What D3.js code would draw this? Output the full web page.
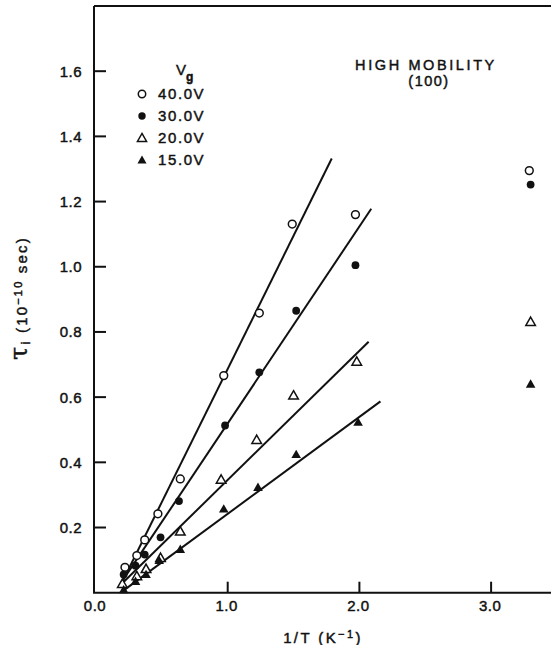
<!DOCTYPE html>
<html>
<head>
<meta charset="utf-8">
<script src="https://cdn.jsdelivr.net/npm/d3@7"></script>
<style>
  html, body { margin: 0; padding: 0; background: #fff; }
  svg { display: block; }
  text { fill: #111; stroke: #111; stroke-width: 0.45px; font-family: "Liberation Sans", Arial, sans-serif; }
</style>
</head>
<body>
<svg id="chart" width="551" height="645"></svg>
<script>
// Gate-voltage series (legend order)
const series = ["40.0V", "30.0V", "20.0V", "15.0V"];
const markers = ["openCircle", "filledCircle", "openTriangle", "filledTriangle"];

// Inverse temperature 1/T (K^-1) and relaxation time tau_i (1e-10 s)
const invT40 = [0.22, 0.31, 0.37, 0.47, 0.64, 0.97, 1.24, 1.49, 1.97, 3.29];
const tau40  = [0.078, 0.114, 0.162, 0.242, 0.349, 0.666, 0.858, 1.131, 1.160, 1.295];
const invT30 = [0.21, 0.30, 0.37, 0.49, 0.63, 0.98, 1.24, 1.52, 1.97, 3.30];
const tau30  = [0.056, 0.083, 0.117, 0.170, 0.281, 0.513, 0.676, 0.865, 1.005, 1.252];
const invT20 = [0.20, 0.31, 0.38, 0.49, 0.64, 0.95, 1.22, 1.50, 1.98, 3.30];
const tau20  = [0.027, 0.051, 0.073, 0.107, 0.188, 0.347, 0.469, 0.605, 0.709, 0.831];
const invT15 = [0.21, 0.30, 0.38, 0.48, 0.64, 0.97, 1.23, 1.52, 1.99, 3.30];
const tau15  = [0.009, 0.035, 0.056, 0.099, 0.133, 0.257, 0.323, 0.424, 0.523, 0.640];

// Straight-line fits: start and end points (1/T, tau_i)
const fitStart = [[0.19, 0.025], [0.19, 0.030], [0.19, 0.025], [0.20, 0.004]];
const fitEnd   = [[1.79, 1.332], [2.09, 1.178], [2.07, 0.770], [2.16, 0.587]];

// Axis ticks
const xTicks = [0, 1, 2, 3];
const xTickLabels = ["0.0", "1.0", "2.0", "3.0"];
const yTicks = [0.2, 0.4, 0.6, 0.8, 1.0, 1.2, 1.4, 1.6];
const yTickLabels = ["0.2", "0.4", "0.6", "0.8", "1.0", "1.2", "1.4", "1.6"];

const xs = [invT40, invT30, invT20, invT15];
const ys = [tau40, tau30, tau20, tau15];

const svg = d3.select("#chart");

const x = d3.scaleLinear().domain([0, 3.6]).range([96, 96 + 131.7 * 3.6]);
const y = d3.scaleLinear().domain([0, 1.8]).range([592.7, 6]);

const X0 = x(0) - 2, Y0 = y(0), YTOP = 6;

// frame: left axis, bottom axis, top border
const frame = svg.append("g").attr("stroke", "#111").attr("stroke-width", 2).attr("fill", "none");
frame.append("path").attr("d", `M${X0},${YTOP} V${Y0} H560`);
frame.append("path").attr("d", `M${X0},${YTOP} H560`);

// y ticks (inward) and labels
svg.append("g").selectAll("line").data(yTicks).join("line")
  .attr("x1", X0).attr("x2", X0 + 12)
  .attr("y1", d => y(d)).attr("y2", d => y(d))
  .attr("stroke", "#111").attr("stroke-width", 2);
svg.append("g").selectAll("text").data(yTicks).join("text")
  .attr("x", 82).attr("y", d => y(d) + 5.5)
  .attr("text-anchor", "end")
  .style("font-size", "15px").style("letter-spacing", "0.5px")
  .text((d, i) => yTickLabels[i]);

// x ticks (upward) and labels
svg.append("g").selectAll("line").data(xTicks.filter(d => d > 0)).join("line")
  .attr("x1", d => x(d)).attr("x2", d => x(d))
  .attr("y1", Y0).attr("y2", Y0 - 11)
  .attr("stroke", "#111").attr("stroke-width", 2);
svg.append("g").selectAll("text").data(xTicks).join("text")
  .attr("x", d => x(d) - 1).attr("y", 611)
  .attr("text-anchor", "middle")
  .style("font-size", "15px").style("letter-spacing", "0.5px")
  .text((d, i) => xTickLabels[i]);

// fitted lines
const line = d3.line().x(d => x(d[0])).y(d => y(d[1]));
svg.append("g").selectAll("path").data(series).join("path")
  .attr("d", (s, i) => line([fitStart[i], fitEnd[i]]))
  .attr("fill", "none").attr("stroke", "#111").attr("stroke-width", 2);

// marker drawing
function drawMarker(g, type, cx, cy, scale) {
  const k = scale || 1;
  if (type === "openCircle") {
    g.append("circle").attr("cx", cx).attr("cy", cy).attr("r", 3.9 * k)
      .attr("fill", "#fff").attr("stroke", "#111").attr("stroke-width", 1.5);
  } else if (type === "filledCircle") {
    g.append("circle").attr("cx", cx).attr("cy", cy).attr("r", 3.9 * k).attr("fill", "#111");
  } else {
    const s = 4.8 * k;
    const p = `M${cx},${cy - s} L${cx + s},${cy + s * 0.75} L${cx - s},${cy + s * 0.75} Z`;
    if (type === "openTriangle") {
      g.append("path").attr("d", p).attr("fill", "#fff").attr("stroke", "#111")
        .attr("stroke-width", 1.5).attr("stroke-linejoin", "miter");
    } else {
      g.append("path").attr("d", p).attr("fill", "#111");
    }
  }
}

// data points
const pts = svg.append("g");
series.forEach((s, i) => {
  xs[i].forEach((v, j) => drawMarker(pts, markers[i], x(v), y(ys[i][j])));
});

// legend
const leg = svg.append("g");
const vg = leg.append("text").attr("x", 176).attr("y", 75).style("font-size", "15px");
vg.append("tspan").text("V");
vg.append("tspan").attr("dy", 6).style("font-size", "12px").style("font-weight", "bold").text("g");
series.forEach((s, i) => {
  const by = 99 + i * 22;
  drawMarker(leg, markers[i], 142, by - 5, 0.95);
  leg.append("text").attr("x", 158).attr("y", by)
    .style("font-size", "15px").style("letter-spacing", "1.6px").text(s);
});

// annotation
svg.append("text").attr("x", 426).attr("y", 70).attr("text-anchor", "middle")
  .style("font-size", "14.5px").style("letter-spacing", "2.6px").text("HIGH MOBILITY");
svg.append("text").attr("x", 429).attr("y", 86).attr("text-anchor", "middle")
  .style("font-size", "14.5px").style("letter-spacing", "1.5px").text("(100)");

// x-axis title
const xt = svg.append("text").attr("x", 323).attr("y", 643).attr("text-anchor", "middle")
  .style("font-size", "15px").style("letter-spacing", "2.4px");
xt.append("tspan").text("1/T  (K");
xt.append("tspan").attr("dy", -5).style("font-size", "11px").text("−1");
xt.append("tspan").attr("dy", 5).text(")");

// y-axis title
const yt = svg.append("text")
  .attr("transform", "translate(27,298) rotate(-90)")
  .attr("text-anchor", "middle")
  .style("font-size", "15px").style("letter-spacing", "2.2px");
yt.append("tspan").style("font-size", "24px").style("font-family", "'DejaVu Serif', serif").text("τ");
yt.append("tspan").attr("dy", 3).style("font-size", "13px").text("i");
yt.append("tspan").attr("dy", -3).text("  (10");
yt.append("tspan").attr("dy", -5).style("font-size", "11px").text("−10");
yt.append("tspan").attr("dy", 5).text(" sec)");
</script>
</body>
</html>
